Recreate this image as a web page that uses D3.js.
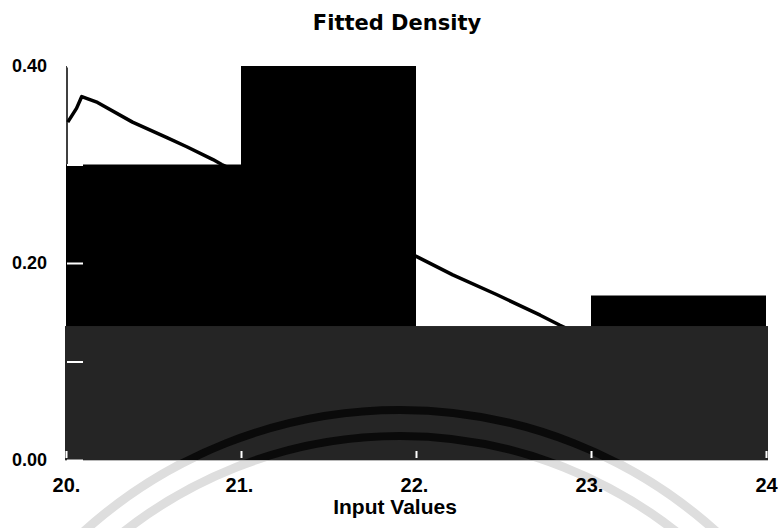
<!DOCTYPE html>
<html>
<head>
<meta charset="utf-8">
<script src="https://cdn.jsdelivr.net/npm/d3@7"></script>
<style>
  html, body { margin: 0; padding: 0; background: #ffffff; }
  svg { display: block; }
</style>
</head>
<body>
<svg id="chart" width="781" height="528"></svg>
<script>
// ---- data ----
const binStarts = [20, 21, 22, 23];
const binEnds = [21, 22, 23, 24];
const densities = [0.30, 0.40, 0.133, 0.167];

const curveX = [20.01, 20.06, 20.09, 20.18, 20.38, 20.58, 20.69, 20.84, 20.89, 21.0, 21.5, 22.01, 22.21, 22.46, 22.71, 22.82, 23.0];
const curveY = [0.343, 0.357, 0.369, 0.363, 0.343, 0.327, 0.318, 0.305, 0.300, 0.291, 0.249, 0.206, 0.188, 0.168, 0.147, 0.137, 0.122];

const xTicks = [20, 21, 22, 23, 24];
const xTickLabels = ["20.", "21.", "22.", "23.", "24"];
const yTicks = [0, 0.1, 0.2, 0.3, 0.4];
const yTickLabels = ["0.00", "", "0.20", "", "0.40"];

const bandTop = 0.136; // dark overlay band in the source image

// ---- chart ----
const svg = d3.select("#chart");
const x = d3.scaleLinear().domain([20, 24]).range([66, 766]);
const y = d3.scaleLinear().domain([0, 0.4]).range([460, 66]);

// fitted density line (behind bars)
const line = d3.line().x((d, i) => x(curveX[i])).y((d, i) => y(curveY[i]));
svg.append("path")
  .datum(curveX)
  .attr("d", line)
  .attr("fill", "none")
  .attr("stroke", "#000")
  .attr("stroke-width", 3.5)
  .attr("stroke-linejoin", "round");

// histogram bars
svg.append("g").selectAll("rect")
  .data(densities)
  .join("rect")
  .attr("x", (d, i) => x(binStarts[i]))
  .attr("width", (d, i) => x(binEnds[i]) - x(binStarts[i]))
  .attr("y", d => y(d))
  .attr("height", d => y(0) - y(d))
  .attr("fill", "#000");

// y axis line
svg.append("line")
  .attr("x1", 67).attr("x2", 67)
  .attr("y1", y(0.4)).attr("y2", y(0))
  .attr("stroke", "#000").attr("stroke-width", 1.5);

// watermark rings (light on white)
const ringCx = 400, ringCy = 882;
const rings = [472, 446];
const wm = svg.append("g");
wm.selectAll("circle.l").data(rings).join("circle")
  .attr("class", "l")
  .attr("cx", ringCx).attr("cy", ringCy).attr("r", d => d)
  .attr("fill", "none").attr("stroke", "#dedede").attr("stroke-width", 9);

// dark band
const bx0 = x(20) - 1, bx1 = x(24) + 2;
svg.append("rect")
  .attr("x", bx0).attr("y", y(bandTop))
  .attr("width", bx1 - bx0).attr("height", y(0) - y(bandTop))
  .attr("fill", "#252525");

svg.append("clipPath").attr("id", "bandclip")
  .append("rect")
  .attr("x", bx0).attr("y", y(bandTop))
  .attr("width", bx1 - bx0).attr("height", y(0) - y(bandTop));
svg.append("g").attr("clip-path", "url(#bandclip)")
  .selectAll("circle").data(rings).join("circle")
  .attr("cx", ringCx).attr("cy", ringCy).attr("r", d => d)
  .attr("fill", "none").attr("stroke", "#0a0a0a").attr("stroke-width", 8);

// x axis baseline
svg.append("line")
  .attr("x1", bx0).attr("x2", bx1)
  .attr("y1", y(0) + 0.5).attr("y2", y(0) + 0.5)
  .attr("stroke", "#b8b8b8").attr("stroke-width", 1);

// y axis ticks / labels
const yAxis = d3.axisLeft(y)
  .tickValues(yTicks)
  .tickFormat((d, i) => yTickLabels[i])
  .tickSizeInner(-16)
  .tickSizeOuter(0)
  .tickPadding(20);
const gy = svg.append("g").attr("transform", "translate(67,0)").call(yAxis);
gy.select(".domain").remove();
gy.selectAll(".tick line").attr("stroke", "#fff").attr("stroke-width", 2);
gy.selectAll(".tick text")
  .attr("fill", "#000")
  .style("font-family", "'Liberation Sans', Arial, sans-serif")
  .style("font-weight", "bold")
  .style("font-size", "18px");

// x axis ticks / labels
const xAxis = d3.axisBottom(x)
  .tickValues(xTicks)
  .tickFormat((d, i) => xTickLabels[i])
  .tickSizeInner(-7)
  .tickSizeOuter(0)
  .tickPadding(20);
const gx = svg.append("g").attr("transform", `translate(0,${y(0) - 2})`).call(xAxis);
gx.select(".domain").remove();
gx.selectAll(".tick line").attr("stroke", "#fff").attr("stroke-width", 2);
gx.selectAll(".tick text")
  .attr("fill", "#000")
  .attr("dx", (d, i) => i === 0 || i === 4 ? 0 : -2)
  .style("font-family", "'Liberation Sans', Arial, sans-serif")
  .style("font-weight", "bold")
  .style("font-size", "20px");

// title
svg.append("text")
  .attr("x", 397).attr("y", 30)
  .attr("text-anchor", "middle")
  .style("font-family", "'DejaVu Sans', Verdana, sans-serif")
  .style("font-weight", "bold")
  .style("font-size", "21px")
  .text("Fitted Density");

// x axis title
svg.append("text")
  .attr("x", 395).attr("y", 514)
  .attr("text-anchor", "middle")
  .style("font-family", "'Liberation Sans', Arial, sans-serif")
  .style("font-weight", "bold")
  .style("font-size", "21px")
  .text("Input Values");
</script>
</body>
</html>
